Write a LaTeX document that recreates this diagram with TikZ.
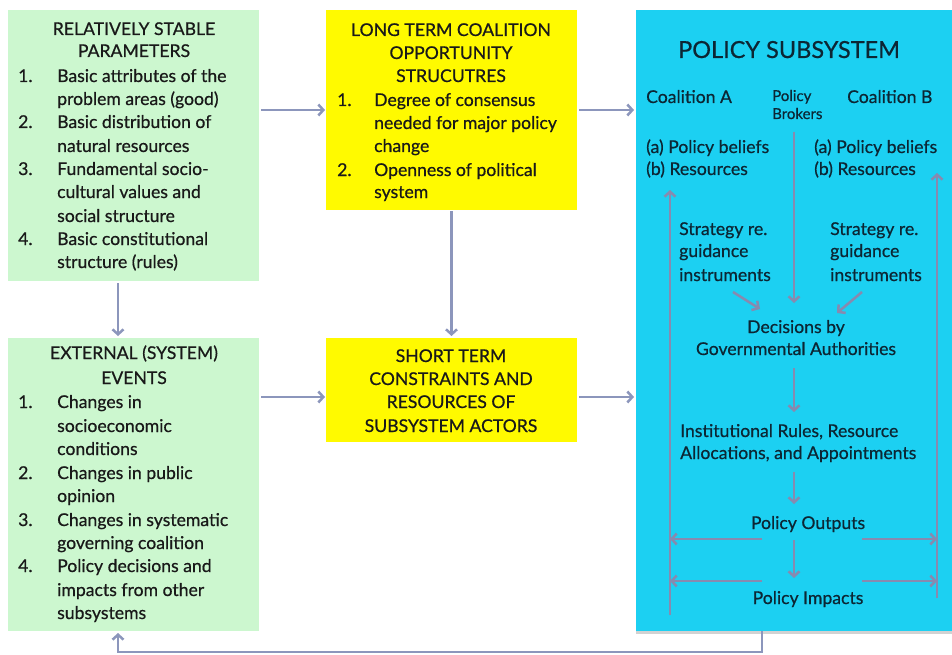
\documentclass[tikz,border=0pt]{standalone}
\usepackage{fontspec}
\setmainfont{Lato}[FakeBold=0.6]
\usetikzlibrary{arrows.meta,shadows}
\definecolor{grn}{RGB}{204,247,207}
\definecolor{ylw}{RGB}{255,250,0}
\definecolor{cyn}{RGB}{28,208,242}
\definecolor{arrc}{RGB}{140,150,188}
\definecolor{inarr}{RGB}{135,138,175}
\definecolor{txt}{RGB}{25,25,25}
\definecolor{ctxt}{RGB}{12,38,52}
\begin{document}
\begin{tikzpicture}[x=1pt,y=-1pt,
  box/.style={draw=none, inner sep=0pt, outer sep=0pt},
  tl/.style={anchor=base west, inner sep=0pt, font=\fontsize{17.6}{20}\selectfont, text=txt},
  tc/.style={anchor=base, inner sep=0pt, font=\fontsize{17.6}{20}\selectfont, text=txt},
  cl/.style={tl, text=ctxt},
  cc/.style={tc, text=ctxt},
  arr/.style={draw=arrc, line width=2.5pt, -{Straight Barb[length=5pt,width=11pt]}},
  iarr/.style={draw=inarr, line width=2.5pt, -{Straight Barb[length=5pt,width=11pt]}},
  iline/.style={draw=inarr, line width=2.5pt}]
\useasboundingbox (0,0) rectangle (952,655);
\fill[white] (0,0) rectangle (952,655);
% boxes
\node[box, fill=grn, minimum width=251pt, minimum height=271pt] (sp) at (133.5,145.5) {};
\node[box, fill=grn, minimum width=251pt, minimum height=293pt] (ev) at (133.5,484.5) {};
\node[box, fill=ylw, minimum width=251pt, minimum height=200pt] (lt) at (451.5,110) {};
\node[box, fill=ylw, minimum width=251pt, minimum height=104pt] (st) at (451.5,390) {};
\node[box, fill=cyn, minimum width=320pt, minimum height=621pt, drop shadow={opacity=0.35, shadow xshift=0pt, shadow yshift=-2.5pt}] (ps) at (796,320.5) {};
% green 1
\node[tc] (sp1) at (134,35) {RELATIVELY STABLE};
\node[tc] (sp2) at (134,57) {PARAMETERS};
\node[tl] (spn1) at (18,82) {1.};
\node[tl] (spa) at (57,82) {Basic attributes of the};
\node[tl] (spb) at (57,105) {problem areas (good)};
\node[tl] (spn2) at (18,128) {2.};
\node[tl] (spc) at (57,128) {Basic distribution of};
\node[tl] (spd) at (57,152) {natural resources};
\node[tl] (spn3) at (18,175) {3.};
\node[tl] (spe) at (57,175) {Fundamental socio-};
\node[tl] (spf) at (57,198) {cultural values and};
\node[tl] (spg) at (57,222) {social structure};
\node[tl] (spn4) at (18,245) {4.};
\node[tl] (sph) at (57,245) {Basic constitutional};
\node[tl] (spi) at (57,268) {structure (rules)};
% green 2
\node[tc] (ev1) at (134,359) {EXTERNAL (SYSTEM)};
\node[tc] (ev2) at (134,384) {EVENTS};
\node[tl] (evn1) at (18,408) {1.};
\node[tl] (eva) at (57,408) {Changes in};
\node[tl] (evb) at (57,432) {socioeconomic};
\node[tl] (evc) at (57,455) {conditions};
\node[tl] (evn2) at (18,479) {2.};
\node[tl] (evd) at (57,479) {Changes in public};
\node[tl] (eve) at (57,502) {opinion};
\node[tl] (evn3) at (18,526) {3.};
\node[tl] (evf) at (57,526) {Changes in systematic};
\node[tl] (evg) at (57,549) {governing coalition};
\node[tl] (evn4) at (18,572) {4.};
\node[tl] (evh) at (57,572) {Policy decisions and};
\node[tl] (evi) at (57,596) {impacts from other};
\node[tl] (evj) at (57,619) {subsystems};
% yellow 1
\node[tc] (lt1) at (451,36) {LONG TERM COALITION};
\node[tc] (lt2) at (451,59) {OPPORTUNITY};
\node[tc] (lt3) at (451,82) {STRUCUTRES};
\node[tl] (ltn1) at (337,106) {1.};
\node[tl] (lta) at (374,106) {Degree of consensus};
\node[tl] (ltb) at (374,129) {needed for major policy};
\node[tl] (ltc) at (374,152) {change};
\node[tl] (ltn2) at (337,176) {2.};
\node[tl] (ltd) at (374,176) {Openness of political};
\node[tl] (lte) at (374,198) {system};
% yellow 2
\node[tc] (st1) at (451,362) {SHORT TERM};
\node[tc] (st2) at (451,385) {CONSTRAINTS AND};
\node[tc] (st3) at (451,408) {RESOURCES OF};
\node[tc] (st4) at (451,432) {SUBSYSTEM ACTORS};
% policy subsystem
\node[cc, font=\fontsize{23.5}{28}\selectfont] (pst) at (789,58) {POLICY SUBSYSTEM};
\node[cl] (ca) at (646,103) {Coalition A};
\node[cl, font=\fontsize{15}{17}\selectfont] (pb1) at (772,101) {Policy};
\node[cl, font=\fontsize{15}{17}\selectfont] (pb2) at (772,119) {Brokers};
\node[cl] (cb) at (847,103) {Coalition B};
\node[cl] (caa) at (646,153) {(a) Policy beliefs};
\node[cl] (cab) at (646,175) {(b) Resources};
\node[cl] (cba) at (814,153) {(a) Policy beliefs};
\node[cl] (cbb) at (814,175) {(b) Resources};
\node[cl] (sa1) at (679,235) {Strategy re.};
\node[cl] (sa2) at (679,257) {guidance};
\node[cl] (sa3) at (679,281) {instruments};
\node[cl] (sb1) at (830,235) {Strategy re.};
\node[cl] (sb2) at (830,257) {guidance};
\node[cl] (sb3) at (830,281) {instruments};
\node[cc] (dg1) at (796,333) {Decisions by};
\node[cc] (dg2) at (796,355) {Governmental Authorities};
\node[cl] (ir1) at (680,437) {Institutional Rules, Resource};
\node[cl] (ir2) at (680,459) {Allocations, and Appointments};
\node[cc] (po) at (808,529) {Policy Outputs};
\node[cc] (pi) at (808,604) {Policy Impacts};
% coordinates for internal connectors
\coordinate (brk) at (794,132);
\coordinate (dgt) at (794,303);
\coordinate (sal) at (733,292);
\coordinate (sar) at (760,309);
\coordinate (sbl) at (862,292);
\coordinate (sbr) at (837,313);
\coordinate (dgb) at (794,368);
\coordinate (irt) at (794,412);
\coordinate (irb) at (794,472);
\coordinate (pot) at (794,504);
\coordinate (pob) at (794,540);
\coordinate (pit) at (794,578);
\coordinate (lft) at (670,190);
\coordinate (lfb) at (670,615);
\coordinate (rgt) at (937,173);
\coordinate (rgb) at (937,598);
\coordinate (o1) at (762,539);
\coordinate (o2) at (862,539);
\coordinate (i1) at (762,581);
\coordinate (i2) at (862,581);
% internal arrows
\draw[iarr] (brk) -- (dgt);
\draw[iarr] (sal) -- (sar);
\draw[iarr] (sbl) -- (sbr);
\draw[iarr] (dgb) -- (irt);
\draw[iarr] (irb) -- (pot);
\draw[iarr] (pob) -- (pit);
\draw[iarr] (lfb) -- (lft);
\draw[iarr] (rgb) -- (rgt);
\draw[iarr] (o1) -- (o1 -| lft);
\draw[iarr] (o2) -- (o2 -| rgt);
\draw[iarr] (i1) -- (i1 -| lft);
\draw[iarr] (i2) -- (i2 -| rgt);
% external arrows
\draw[arr, shorten <=2pt, shorten >=1pt] (lt.west -| sp.east) -- (lt.west);
\draw[arr, shorten <=2pt, shorten >=2pt] (lt.east) -- (lt.east -| ps.west);
\coordinate (evy) at (0,397);
\draw[arr, shorten <=2pt, shorten >=1pt] (evy -| ev.east) -- (evy -| st.west);
\draw[arr, shorten <=2pt, shorten >=2pt] (evy -| st.east) -- (evy -| ps.west);
\coordinate (vx) at (118,0);
\draw[arr, shorten <=2pt, shorten >=2pt] (vx |- sp.south) -- (vx |- ev.north);
\draw[arr, shorten <=1pt, shorten >=2pt] (lt.south) -- (st.north);
\coordinate (fbx) at (762,0);
\coordinate (fby) at (0,652);
\draw[arr, shorten >=2pt] (fbx |- ps.south) -- (fbx |- fby) -- (vx |- fby) -- (vx |- ev.south);
\end{tikzpicture}
\end{document}
